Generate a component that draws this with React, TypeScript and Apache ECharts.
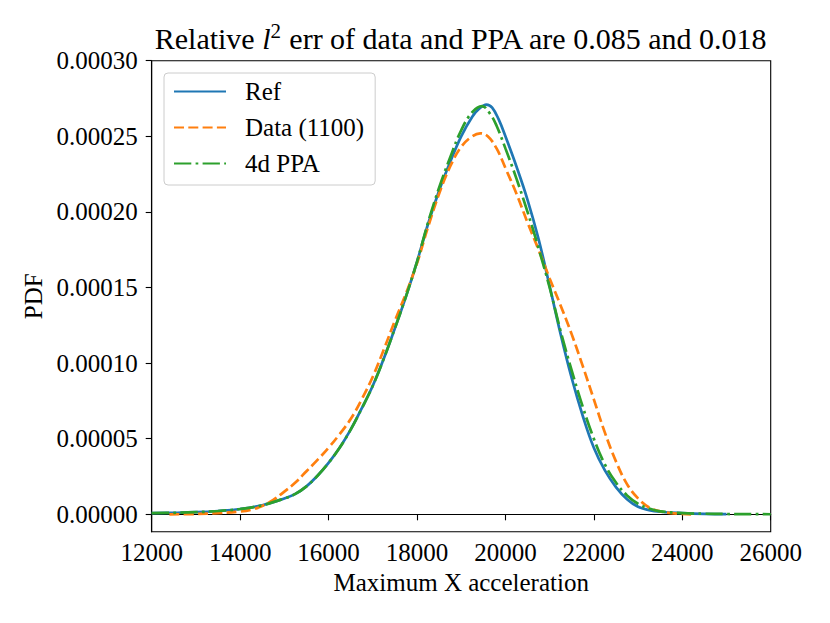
import React, { useEffect, useRef } from "react";
import * as echarts from "echarts";

// PDF values in units of 1e-5
const refX = [12000, 12500, 13000, 13500, 14000, 14500, 15000, 15250, 15500, 15750, 16000, 16250, 16500, 16750, 17000, 17250, 17500, 17750, 18000, 18250, 18500, 18750, 19000, 19250, 19400, 19570, 19700, 19850, 20000, 20250, 20500, 20750, 21000, 21250, 21500, 21750, 22000, 22250, 22500, 22750, 23000, 23250, 23500, 24000, 24500, 25000];
const refY = [0.08, 0.1, 0.14, 0.22, 0.35, 0.6, 1.05, 1.35, 1.85, 2.55, 3.4, 4.4, 5.6, 7.0, 8.5, 10.3, 12.3, 14.4, 16.7, 19.2, 21.4, 23.3, 25.0, 26.3, 26.8, 27.1, 26.9, 26.1, 25.0, 23.0, 20.8, 18.2, 15.1, 11.9, 9.0, 6.5, 4.4, 2.9, 1.8, 1.0, 0.5, 0.28, 0.17, 0.08, 0.03, 0.01];

const dataX = [12400, 13000, 13500, 14000, 14250, 14500, 14750, 15000, 15250, 15500, 15750, 16000, 16250, 16500, 16750, 17000, 17250, 17500, 17750, 18000, 18250, 18500, 18750, 19000, 19250, 19430, 19600, 19800, 20000, 20250, 20500, 20750, 21000, 21250, 21500, 21750, 22000, 22250, 22500, 22750, 23000, 23250, 23500, 23750, 24200];
const dataY = [0.0, 0.02, 0.08, 0.18, 0.3, 0.55, 0.95, 1.5, 2.1, 2.85, 3.6, 4.4, 5.3, 6.3, 7.6, 9.1, 10.9, 12.8, 14.6, 16.6, 19.0, 21.2, 23.0, 24.3, 25.0, 25.2, 25.0, 24.2, 22.9, 21.2, 19.3, 17.5, 15.6, 13.8, 11.9, 9.8, 7.6, 5.4, 3.5, 2.0, 1.05, 0.45, 0.2, 0.08, 0.0];

const ppaX = [12000, 12500, 13000, 13500, 14000, 14500, 15000, 15250, 15500, 15750, 16000, 16250, 16500, 16750, 17000, 17250, 17500, 17750, 18000, 18250, 18500, 18750, 19000, 19250, 19470, 19650, 19800, 20000, 20250, 20500, 20750, 21000, 21250, 21500, 21750, 22000, 22250, 22500, 22750, 23000, 23250, 23500, 24000, 24500, 25000, 25500, 26000];
const ppaY = [0.08, 0.1, 0.14, 0.22, 0.35, 0.6, 1.05, 1.35, 1.85, 2.55, 3.4, 4.4, 5.6, 7.0, 8.5, 10.3, 12.3, 14.4, 16.7, 19.3, 21.6, 23.6, 25.4, 26.6, 27.0, 26.5, 25.7, 24.2, 22.2, 20.0, 17.6, 15.0, 12.1, 9.5, 7.1, 5.0, 3.3, 2.1, 1.25, 0.7, 0.38, 0.2, 0.08, 0.04, 0.02, 0.01, 0.005];

const seriesNames = ["Ref", "Data (1100)", "4d PPA"];
const seriesColors = ["#1f77b4", "#ff7f0e", "#2ca02c"];
const yTicks = [0, 5, 10, 15, 20, 25, 30];

const FONT = "'Liberation Serif', 'DejaVu Serif', serif";

const zip = (xs: number[], ys: number[]) => xs.map((x, i) => [x, ys[i]]);

export default function App() {
  const ref = useRef<HTMLDivElement>(null);
  useEffect(() => {
    if (!ref.current) return;
    const chart = echarts.init(ref.current, undefined, { renderer: "svg" });
    const lw = 2.7;
    const dashes: any[] = ["solid", [10, 4.3], [17.3, 4.3, 2.7, 4.3]];
    const xs = [refX, dataX, ppaX];
    const ys = [refY, dataY, ppaY];
    chart.setOption({
      animation: false,
      backgroundColor: "#ffffff",
      title: {
        text: "{n|Relative }{i|l}{s|2}{n| err of data and PPA are 0.085 and 0.018}",
        left: 461,
        top: 20,
        padding: 0,
        textAlign: "center",
        textStyle: {
          fontWeight: "normal",
          rich: {
            n: { fontSize: 30, fontFamily: FONT, fontWeight: "normal", color: "#000", lineHeight: 36 },
            i: { fontSize: 30, fontFamily: FONT, fontWeight: "normal", fontStyle: "italic", color: "#000", lineHeight: 36 },
            s: { fontSize: 21, fontFamily: FONT, fontWeight: "normal", color: "#000", lineHeight: 22, verticalAlign: "top" },
          },
        },
      },
      legend: {
        orient: "vertical",
        left: 164,
        top: 73,
        padding: [6, 11, 9, 9],
        itemWidth: 52,
        itemHeight: 14,
        itemGap: 11,
        borderColor: "#cccccc",
        borderWidth: 1,
        borderRadius: 4,
        backgroundColor: "rgba(255,255,255,0.8)",
        itemStyle: { color: "rgba(0,0,0,0)", borderColor: "rgba(0,0,0,0)", borderWidth: 0, opacity: 0 },
        textStyle: { fontSize: 25, fontFamily: FONT, color: "#000", lineHeight: 25, padding: [0, 0, 0, 14] },
        data: seriesNames,
      },
      grid: {
        left: 151.7,
        right: 59.3,
        top: 60.7,
        bottom: 91.3,
        show: true,
        borderColor: "#000",
        borderWidth: 1.1,
        containLabel: false,
      },
      xAxis: {
        type: "value",
        min: 12000,
        max: 26000,
        interval: 2000,
        name: "Maximum X acceleration",
        nameLocation: "middle",
        nameGap: 36,
        nameTextStyle: { fontSize: 25, fontFamily: FONT, color: "#000" },
        axisLine: { show: true, lineStyle: { color: "#000", width: 1.1 } },
        axisTick: { show: true, inside: false, length: 6, lineStyle: { color: "#000", width: 1.1 } },
        axisLabel: {
          fontSize: 25,
          fontFamily: FONT,
          color: "#000",
          margin: 8,
          showMaxLabel: true,
          showMinLabel: true,
          formatter: (v: number) => String(v),
        },
        splitLine: { show: false },
      },
      yAxis: {
        type: "value",
        min: -1.15,
        max: 30,
        name: "PDF",
        nameLocation: "middle",
        nameRotate: 90,
        nameGap: 100,
        nameTextStyle: { fontSize: 25, fontFamily: FONT, color: "#000" },
        axisLine: { show: true, onZero: false, lineStyle: { color: "#000", width: 1.1 } },
        axisTick: { show: true, inside: false, length: 6, customValues: yTicks, lineStyle: { color: "#000", width: 1.1 } },
        axisLabel: {
          fontSize: 25,
          fontFamily: FONT,
          color: "#000",
          margin: 14,
          customValues: yTicks,
          formatter: (v: number) => (v / 1e5).toFixed(5),
        },
        splitLine: { show: false },
      },
      series: seriesNames.map((name, k) => ({
        name,
        type: "line",
        symbol: "none",
        smooth: 0.4,
        color: seriesColors[k],
        lineStyle: { color: seriesColors[k], width: lw, type: dashes[k], cap: "butt" },
        data: zip(xs[k], ys[k]),
        z: 2 + k,
      })),
    });
    return () => chart.dispose();
  }, []);
  return (
    <div
      ref={ref}
      style={{ position: "fixed", left: 0, top: 0, width: 830, height: 623, background: "#fff" }}
    />
  );
}
